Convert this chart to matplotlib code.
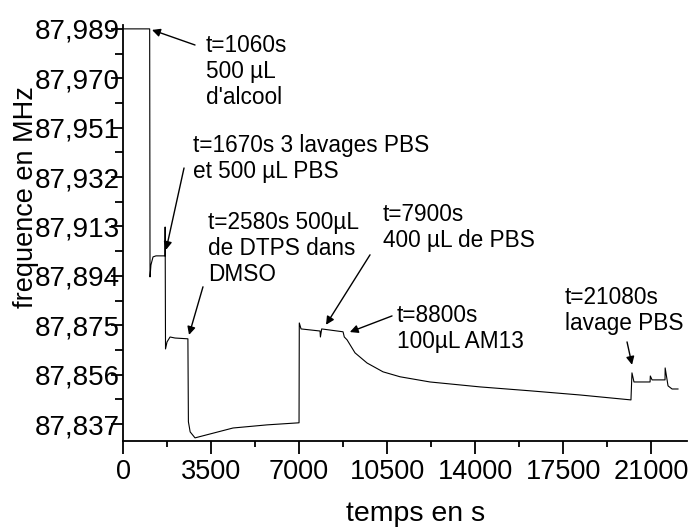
import matplotlib as mpl
mpl.use('Agg')
import matplotlib.pyplot as plt
from matplotlib.ticker import FixedLocator, FixedFormatter, MultipleLocator

plt.rcParams['font.family'] = ['Liberation Sans', 'DejaVu Sans']

# time (s) and frequency (MHz)
temps = [0, 1060, 1074, 1110, 1193, 1310, 1670, 1675, 1690, 1750, 1870, 2070,
         2580, 2600, 2670, 2863, 3460, 4375, 5727, 7000, 7010, 7080, 7835,
         7850, 7900, 8750, 8800, 8910, 9226, 9704, 10340, 11016, 12210, 14200,
         16190, 18175, 20200, 20240, 20320, 20960, 20970, 21040, 21555, 21560,
         21675, 21835, 22070]
freq = [87.989, 87.989, 87.8936, 87.8982, 87.9013, 87.9017, 87.9017, 87.9128,
        87.8659, 87.8686, 87.8705, 87.8701, 87.8698, 87.8379, 87.8340, 87.8317,
        87.8332, 87.8355, 87.8367, 87.8375, 87.8759, 87.8736, 87.8728, 87.8705,
        87.8736, 87.8725, 87.8705, 87.8694, 87.8644, 87.8605, 87.8571, 87.8552,
        87.8532, 87.8513, 87.8498, 87.8482, 87.8463, 87.8567, 87.8532, 87.8532,
        87.8555, 87.8540, 87.8540, 87.8586, 87.8517, 87.8505, 87.8505]

yticks = [87.837, 87.856, 87.875, 87.894, 87.913, 87.932, 87.951, 87.970, 87.989]
ylabels = ['87,837', '87,856', '87,875', '87,894', '87,913', '87,932', '87,951',
           '87,970', '87,989']
xticks = [0, 3500, 7000, 10500, 14000, 17500, 21000]

# annotations: text, arrow tip (t, f), text top-left (t, f), arrow tail (t, f)
notes = [
    ("t=1060s\n500 µL\nd'alcool", (1153, 87.9886), (3301, 87.9871), (2863, 87.9828)),
    ("t=1670s 3 lavages PBS\net 500 µL PBS", (1710, 87.9040), (2784, 87.9486), (2426, 87.9355)),
    ("t=2580s 500µL\nde DTPS dans\nDMSO", (2625, 87.8713), (3380, 87.9190), (3180, 87.8898)),
    ("t=7900s\n400 µL de PBS", (8073, 87.8752), (10340, 87.9221), (9823, 87.9021)),
    ("t=8800s\n100µL AM13", (9020, 87.8724), (10897, 87.8832), (10698, 87.8786)),
    ("t=21080s\nlavage PBS", (20243, 87.8598), (17578, 87.8902), (20044, 87.8686)),
]

fig = plt.figure(figsize=(6.97, 5.27), dpi=100)
ax = fig.add_axes([0.1765, 0.1632, 0.8092, 0.7894])

ax.plot(temps, freq, color='black', lw=0.8)

ax.set_xlim(0, 22430)
ax.set_ylim(87.8305, 87.9905)

ax.yaxis.set_major_locator(FixedLocator(yticks))
ax.yaxis.set_major_formatter(FixedFormatter(ylabels))
ax.yaxis.set_minor_locator(FixedLocator([v + 0.0095 for v in yticks[:-1]]))
ax.set_xticks(xticks)
ax.set_xticklabels([str(v) for v in xticks])
ax.xaxis.set_minor_locator(MultipleLocator(1750))

ax.spines['right'].set_visible(False)
ax.spines['top'].set_visible(False)
for s in ('left', 'bottom'):
    ax.spines[s].set_linewidth(1.3)

ax.tick_params(axis='both', which='major', length=9, width=1.3, direction='out')
ax.tick_params(axis='x', which='minor', length=4, width=1.3, direction='out')
ax.tick_params(axis='y', which='minor', length=6, width=1.3, direction='out')
ax.tick_params(axis='y', which='major', labelsize=20, pad=-7)
ax.tick_params(axis='x', which='major', labelsize=19.5, pad=4)

ax.set_xlabel('temps en s', fontsize=20.5, va='center')
ax.xaxis.set_label_coords(0.518, -0.175)
ax.set_ylabel('frequence en MHz', fontsize=19.5, va='center')
ax.yaxis.set_label_coords(-0.172, 0.587)

for txt, tip, pos, tail in notes:
    ax.text(pos[0], pos[1], txt, fontsize=16.3, va='top', ha='left', linespacing=1.16)
    ax.annotate('', xy=tip, xytext=tail,
                arrowprops=dict(arrowstyle='-|>', color='black', lw=1,
                                mutation_scale=12, shrinkA=0, shrinkB=0))

fig.savefig('out.png', dpi=100)
